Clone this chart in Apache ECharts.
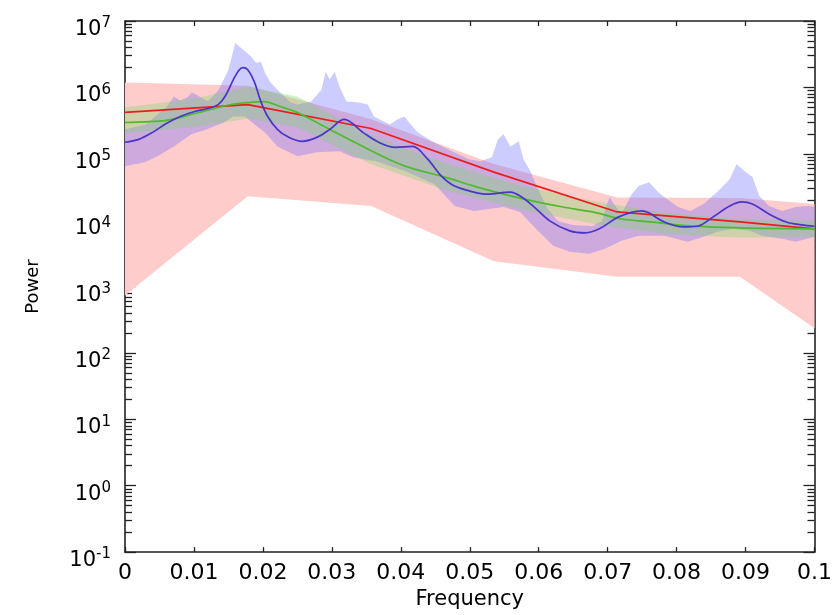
<!DOCTYPE html>
<html>
<head>
<meta charset="utf-8">
<script src="https://cdn.jsdelivr.net/npm/echarts@6/dist/echarts.min.js"></script>
<style>
html,body{margin:0;padding:0;background:#fff;}
#chart{width:835px;height:615px;}
</style>
</head>
<body>
<div id="chart"></div>
<script>
// ---------- data ----------
const xTicks = [0, 0.01, 0.02, 0.03, 0.04, 0.05, 0.06, 0.07, 0.08, 0.09, 0.1];
const yDecades = [0.1, 1, 10, 100, 1000, 1e4, 1e5, 1e6, 1e7];

// red model with its confidence band (pink)
const redFreq  = [0, 0.0178, 0.0357, 0.0535, 0.0714, 0.0892, 0.1];
const redLine  = [4.2e5, 5.5e5, 2.4e5, 5.3e4, 1.33e4, 9.4e3, 7.4e3];
const redUpper = [1.18e6, 1.06e6, 3.3e5, 7.0e4, 2.2e4, 2.15e4, 1.75e4];
const redLower = [730, 2.3e4, 1.63e4, 2.4e3, 1.4e3, 1.4e3, 235];

// green model with its band
const greenFreq = [0, 0.006, 0.0107, 0.0154, 0.0178, 0.0202, 0.0225, 0.025, 0.0297, 0.0345, 0.0392, 0.042, 0.0464, 0.0506, 0.0549, 0.0592, 0.0635, 0.0678, 0.072, 0.0763, 0.082, 0.0892, 0.1];
const greenLine = [2.96e5, 3.18e5, 4.19e5, 5.52e5, 5.91e5, 6.1e5, 5.15e5, 4.19e5, 2.33e5, 1.29e5, 7.46e4, 5.86e4, 4.45e4, 3.26e4, 2.47e4, 1.94e4, 1.58e4, 1.33e4, 1.04e4, 9.4e3, 8.2e3, 7.65e3, 7.4e3];
const greenBandFreq = [0, 0.0107, 0.0178, 0.025, 0.0357, 0.0464, 0.0571, 0.0678, 0.0785, 0.0892, 0.1];
const greenUpper = [4.98e5, 7.0e5, 1.03e6, 7.27e5, 1.89e5, 7.2e4, 3.37e4, 1.94e4, 1.28e4, 1.04e4, 9.75e3];
const greenLower = [2.03e5, 2.58e5, 3.4e5, 2.5e5, 6.96e4, 2.84e4, 1.47e4, 8.8e3, 6.2e3, 5.42e3, 5.6e3];

// blue spectrum with its band
const blueFreq = [0, 0.002, 0.004, 0.006, 0.008, 0.010, 0.012, 0.0135, 0.0145, 0.0157, 0.0165, 0.0171, 0.0178, 0.0188, 0.0197, 0.0207, 0.0221, 0.0235, 0.0257, 0.028, 0.0297, 0.0318, 0.0345, 0.0368, 0.0392, 0.0417, 0.0439, 0.0459, 0.0478, 0.0506, 0.0525, 0.0559, 0.0573, 0.0592, 0.0616, 0.0645, 0.0668, 0.0688, 0.0716, 0.0749, 0.0759, 0.0782, 0.081, 0.083, 0.0853, 0.0877, 0.0894, 0.091, 0.0934, 0.0959, 0.0981, 0.1];
const blueLine = [1.49e5, 1.65e5, 2.1e5, 2.86e5, 3.65e5, 4.3e5, 4.8e5, 5.5e5, 7.3e5, 1.3e6, 1.8e6, 1.98e6, 1.84e6, 1.18e6, 6.1e5, 3.65e5, 2.33e5, 1.83e5, 1.54e5, 1.8e5, 2.33e5, 3.29e5, 2.1e5, 1.49e5, 1.25e5, 1.29e5, 8.3e4, 4.6e4, 3.26e4, 2.65e4, 2.47e4, 2.65e4, 2.31e4, 1.63e4, 9.75e3, 6.9e3, 6.44e3, 7.4e3, 1.12e4, 1.38e4, 1.3e4, 9.4e3, 7.9e3, 8.1e3, 1.12e4, 1.63e4, 1.88e4, 1.75e4, 1.24e4, 9.4e3, 8.5e3, 8.1e3];
const blueUpFreq = [0, 0.0030, 0.0061, 0.0071, 0.0080, 0.0090, 0.0097, 0.0103, 0.0120, 0.0136, 0.0150, 0.0160, 0.0168, 0.0175, 0.0183, 0.0190, 0.0197, 0.0203, 0.0211, 0.0225, 0.0240, 0.0250, 0.0270, 0.0285, 0.0291, 0.0297, 0.0304, 0.0311, 0.0321, 0.0340, 0.0352, 0.0361, 0.0384, 0.0395, 0.0405, 0.0417, 0.0425, 0.0445, 0.0474, 0.0499, 0.0516, 0.0532, 0.0541, 0.0549, 0.0559, 0.0571, 0.0578, 0.0588, 0.0599, 0.0613, 0.0628, 0.0649, 0.0678, 0.0692, 0.0699, 0.0703, 0.0709, 0.0720, 0.0735, 0.0745, 0.0760, 0.0773, 0.0782, 0.0802, 0.0820, 0.0839, 0.0859, 0.0877, 0.0887, 0.0899, 0.0910, 0.0920, 0.0934, 0.0953, 0.0973, 0.0991, 0.1];
const blueUpper = [2.33e5, 2.77e5, 5.15e5, 7.27e5, 6.33e5, 7.02e5, 8.34e5, 7.79e5, 6.12e5, 9.25e5, 1.85e6, 4.68e6, 3.94e6, 3.43e6, 2.89e6, 2.35e6, 2.43e6, 1.66e6, 1.18e6, 8.34e5, 5.91e5, 5.52e5, 6.12e5, 9.25e5, 1.72e6, 1.31e6, 1.72e6, 1.03e6, 6.12e5, 5.91e5, 5.52e5, 3.65e5, 2.77e5, 3.29e5, 3.65e5, 2.58e5, 2.1e5, 1.54e5, 1.09e5, 8.28e4, 7.73e4, 8.87e4, 1.65e5, 1.96e5, 1.29e5, 1.54e5, 8.28e4, 5.47e4, 2.94e4, 1.47e4, 9.75e3, 8.49e3, 8.2e3, 9.75e3, 1.75e4, 2.23e4, 1.75e4, 1.24e4, 2.47e4, 3.26e4, 3.74e4, 2.65e4, 2.23e4, 1.58e4, 1.38e4, 1.75e4, 2.65e4, 4.15e4, 6.96e4, 5.47e4, 4.45e4, 2.31e4, 1.63e4, 1.38e4, 1.58e4, 1.63e4, 1.58e4];
const blueLoFreq = [0, 0.00285, 0.0047, 0.0071, 0.0096, 0.0118, 0.0143, 0.0157, 0.0174, 0.0188, 0.0203, 0.0221, 0.025, 0.0278, 0.0311, 0.0331, 0.0364, 0.0407, 0.0449, 0.0478, 0.0506, 0.0549, 0.0573, 0.0596, 0.0621, 0.0645, 0.0673, 0.0696, 0.072, 0.0745, 0.0763, 0.0782, 0.0816, 0.0839, 0.0859, 0.0882, 0.0906, 0.0924, 0.0953, 0.0973, 0.1];
const blueLower = [6.5e4, 7.46e4, 9.18e4, 1.29e5, 1.96e5, 2.33e5, 2.96e5, 3.65e5, 3.65e5, 2.77e5, 2.1e5, 1.29e5, 9.18e4, 1.05e5, 1.09e5, 8.87e4, 7.73e4, 5.47e4, 3.49e4, 1.63e4, 1.38e4, 1.58e4, 1.33e4, 7.4e3, 4.11e3, 3.34e3, 3.12e3, 3.71e3, 4.89e3, 5.8e3, 5.8e3, 5.8e3, 4.72e3, 5.61e3, 6.67e3, 7.4e3, 6.9e3, 5.8e3, 5.24e3, 4.72e3, 5.61e3];

// ---------- helpers ----------
const FONT = 'DejaVu Sans';
const minorLogTicks = [];
for (let n = -1; n < 7; n++) for (let k = 2; k <= 9; k++) minorLogTicks.push(n + Math.log10(k));

function zipPts(fx, fy) { return fx.map((f, i) => [f, fy[i]]); }

function bandSeries(name, fxUp, up, fxLo, lo, color) {
  return {
    name: name, type: 'custom', xAxisIndex: 0, yAxisIndex: 0, clip: true, silent: true, z: 1,
    data: [[fxUp[0], up[0]]],
    renderItem: function (params, api) {
      const pts = [];
      for (let i = 0; i < fxUp.length; i++) pts.push(api.coord([fxUp[i], up[i]]));
      for (let i = fxLo.length - 1; i >= 0; i--) pts.push(api.coord([fxLo[i], lo[i]]));
      return { type: 'polygon', shape: { points: pts }, style: { fill: color, stroke: null } };
    }
  };
}

const axisLine = { show: true, onZero: false, lineStyle: { color: '#222', width: 1.6 } };
const noLine = { show: false, onZero: false };
const tickStyle = { color: '#222', width: 1.3 };

const chart = echarts.init(document.getElementById('chart'), null, { renderer: 'canvas' });
chart.setOption({
  animation: false,
  backgroundColor: '#fff',
  grid: { left: 125, top: 21, right: 9, bottom: 60, containLabel: false },
  xAxis: [
    {
      type: 'value', position: 'bottom', offset: 0, min: 0, max: 0.1, interval: 0.01,
      axisLine: axisLine,
      axisTick: { show: true, inside: true, length: 5, lineStyle: tickStyle, customValues: xTicks },
      axisLabel: {
        show: true, margin: 10, color: '#000', fontFamily: FONT, fontSize: 22,
        customValues: xTicks,
        formatter: v => String(+(+v).toFixed(2))
      },
      splitLine: { show: false },
      name: 'Frequency', nameLocation: 'middle', nameGap: 35,
      nameTextStyle: { color: '#000', fontFamily: FONT, fontSize: 21, verticalAlign: 'top' }
    },
    {
      type: 'value', position: 'top', offset: 0, min: 0, max: 0.1, interval: 0.01,
      axisLine: axisLine,
      axisTick: { show: true, inside: true, length: 5, lineStyle: tickStyle },
      axisLabel: { show: false }, splitLine: { show: false }
    }
  ],
  yAxis: [
    {
      type: 'log', logBase: 10, position: 'left', offset: 0, min: 0.1, max: 1e7,
      axisLine: axisLine,
      axisTick: { show: true, inside: true, length: 11, lineStyle: tickStyle },
      axisLabel: {
        show: true, margin: 14, color: '#000', fontFamily: FONT,
        padding: [14, 0, 0, 0],
        formatter: v => '{b|10}{s|' + Math.round(Math.log10(v)) + '}',
        rich: {
          b: { fontFamily: FONT, fontSize: 21, color: '#000', lineHeight: 24, verticalAlign: 'bottom' },
          s: { fontFamily: FONT, fontSize: 15, color: '#000', lineHeight: 15, verticalAlign: 'top' }
        }
      },
      splitLine: { show: false },
      name: 'Power', nameLocation: 'middle', nameGap: 83,
      nameTextStyle: { color: '#000', fontFamily: FONT, fontSize: 18 }
    },
    {
      type: 'log', logBase: 10, position: 'right', offset: 0, min: 0.1, max: 1e7,
      axisLine: axisLine,
      axisTick: { show: true, inside: true, length: 11, lineStyle: tickStyle },
      axisLabel: { show: false }, splitLine: { show: false }
    },
    {
      type: 'value', position: 'left', offset: 0, min: -1, max: 7,
      axisLine: noLine,
      axisTick: { show: true, inside: true, length: 7, lineStyle: tickStyle, customValues: minorLogTicks },
      axisLabel: { show: false }, splitLine: { show: false }
    },
    {
      type: 'value', position: 'right', offset: 0, min: -1, max: 7,
      axisLine: noLine,
      axisTick: { show: true, inside: true, length: 7, lineStyle: tickStyle, customValues: minorLogTicks },
      axisLabel: { show: false }, splitLine: { show: false }
    }
  ],
  series: [
    bandSeries('redBand', redFreq, redUpper, redFreq, redLower, '#ffcccc'),
    bandSeries('blueBand', blueUpFreq, blueUpper, blueLoFreq, blueLower, 'rgba(100,100,255,0.33)'),
    bandSeries('greenBand', greenBandFreq, greenUpper, greenBandFreq, greenLower, 'rgba(120,215,110,0.35)'),
    {
      name: 'red', type: 'line', xAxisIndex: 0, yAxisIndex: 0, z: 3,
      data: zipPts(redFreq, redLine), showSymbol: false, symbol: 'none',
      lineStyle: { color: '#ee1b1b', width: 1.7 }
    },
    {
      name: 'green', type: 'line', xAxisIndex: 0, yAxisIndex: 0, z: 3, smooth: 0.3,
      data: zipPts(greenFreq, greenLine), showSymbol: false, symbol: 'none',
      lineStyle: { color: '#4dbb2b', width: 1.7 }
    },
    {
      name: 'blue', type: 'line', xAxisIndex: 0, yAxisIndex: 0, z: 4, smooth: 0.35,
      data: zipPts(blueFreq, blueLine), showSymbol: false, symbol: 'none',
      lineStyle: { color: '#4a35c8', width: 1.7 }
    }
  ]
});
</script>
</body>
</html>
